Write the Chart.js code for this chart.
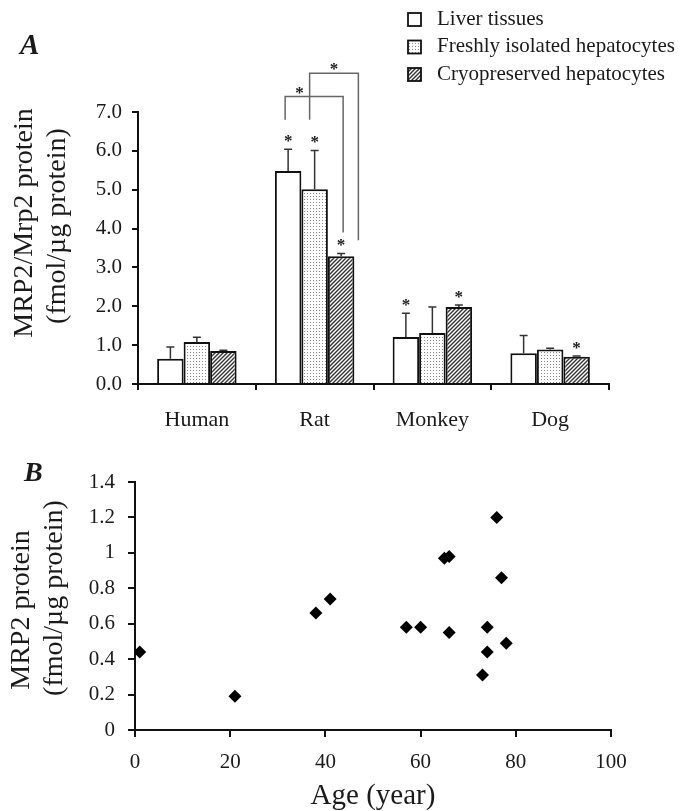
<!DOCTYPE html>
<html>
<head>
<meta charset="utf-8">
<script src="https://cdn.jsdelivr.net/npm/chart.js@4.4.0/dist/chart.umd.min.js"></script>
<style>
  body { margin: 0; background: #fff; }
  canvas { display: block; }
</style>
</head>
<body>
<canvas id="bar-chart" width="682" height="440"></canvas>
<canvas id="scatter-chart" width="682" height="371"></canvas>
<script>
// 圖 A：各物種 MRP2/Mrp2 蛋白量
const species = ["Human", "Rat", "Monkey", "Dog"];
const liverTissues = [0.65, 5.48, 1.21, 0.79];
const liverTissuesSD = [0.30, 0.56, 0.61, 0.46];
const freshHepatocytes = [1.08, 5.01, 1.31, 0.89];
const freshHepatocytesSD = [0.12, 1.00, 0.67, 0.03];
const cryoHepatocytes = [0.85, 3.29, 1.98, 0.70];
const cryoHepatocytesSD = [0.02, 0.07, 0.05, 0.02];
const liverSig = [false, true, true, false];
const freshSig = [false, true, false, false];
const cryoSig = [false, true, true, true];
const yTicksA = [0, 1, 2, 3, 4, 5, 6, 7];

// Rat 組內比較：[起, 迄] 資料集、橫線高度、左右腳下緣
const bracketPairs = [[0, 2], [1, 2]];
const bracketLevels = [7.4, 8.0];
const bracketLeftEnds = [6.8, 6.8];
const bracketRightEnds = [3.9, 3.7];

// 圖 B：年齡與 MRP2 蛋白量
const ages = [1, 21, 38, 41, 57, 60, 65, 66, 66, 73, 74, 74, 76, 77, 78];
const mrp2Protein = [0.44, 0.19, 0.66, 0.74, 0.58, 0.58, 0.97, 0.98, 0.55, 0.31, 0.58, 0.44, 1.20, 0.86, 0.49];

const serif = '"Liberation Serif", "Times New Roman", serif';
const ink = "#1a1a1a";

const makePattern = (size, draw) => {
  const c = document.createElement("canvas");
  c.width = size;
  c.height = size;
  const x = c.getContext("2d");
  x.fillStyle = "#fff";
  x.fillRect(0, 0, size, size);
  draw(x);
  return x.createPattern(c, "repeat");
};
const dots = makePattern(3, (x) => {
  x.fillStyle = "#888";
  x.fillRect(1, 1, 1, 1);
});
const hatch = makePattern(4, (x) => {
  x.strokeStyle = "#333";
  x.lineWidth = 1.4;
  x.beginPath();
  x.moveTo(0, 4); x.lineTo(4, 0);
  x.moveTo(-1, 1); x.lineTo(1, -1);
  x.moveTo(3, 5); x.lineTo(5, 3);
  x.stroke();
});

// 直排座標軸標題（兩行各自置中）
const drawVerticalTitle = (ctx, lines, centers, size) => {
  ctx.save();
  ctx.fillStyle = ink;
  ctx.font = size + "px " + serif;
  ctx.textAlign = "center";
  ctx.textBaseline = "middle";
  lines.forEach((t, i) => {
    ctx.save();
    ctx.translate(centers[i][0], centers[i][1]);
    ctx.rotate(-Math.PI / 2);
    ctx.fillText(t, 0, 0);
    ctx.restore();
  });
  ctx.restore();
};

// 誤差線、星號、括號、圖例
const barMarks = {
  id: "barMarks",
  afterDatasetsDraw(chart) {
    const { ctx } = chart;
    const y = chart.scales.y;
    ctx.save();
    ctx.font = "bold 17px " + serif;
    ctx.textAlign = "center";
    ctx.textBaseline = "alphabetic";
    chart.data.datasets.forEach((ds, i) => {
      chart.getDatasetMeta(i).data.forEach((bar, j) => {
        const top = y.getPixelForValue(ds.data[j] + ds.sd[j]);
        ctx.strokeStyle = "#333";
        ctx.lineWidth = 1.5;
        ctx.beginPath();
        ctx.moveTo(bar.x, bar.y);
        ctx.lineTo(bar.x, top);
        ctx.moveTo(bar.x - 4, top);
        ctx.lineTo(bar.x + 4, top);
        ctx.stroke();
        if (ds.sig[j]) {
          ctx.fillStyle = ink;
          ctx.fillText("*", bar.x, top - 3);
        }
      });
    });

    const rat = species.indexOf("Rat");
    const barOf = (d) => chart.getDatasetMeta(d).data[rat];
    ctx.strokeStyle = "#666";
    ctx.lineWidth = 1.5;
    const ends = [];
    bracketPairs.forEach(([a, b], k) => {
      const left = barOf(a).x - (k === 0 ? 3 : 5);
      const right = k === 0 ? barOf(b).x + 2 : barOf(b).x + barOf(b).width / 2 + 4;
      const top = y.getPixelForValue(bracketLevels[k]);
      ctx.beginPath();
      ctx.moveTo(left, y.getPixelForValue(bracketLeftEnds[k]));
      ctx.lineTo(left, top);
      ctx.lineTo(right, top);
      ctx.lineTo(right, y.getPixelForValue(bracketRightEnds[k]));
      ctx.stroke();
      ends.push([left, right, top]);
    });
    ctx.fillStyle = ink;
    ctx.fillText("*", (ends[0][0] + ends[1][0]) / 2 + 2, ends[0][2] + 2);
    ctx.fillText("*", (ends[1][0] + ends[1][1]) / 2, ends[1][2] + 1);
    ctx.restore();
  },
  afterDraw(chart) {
    const { ctx } = chart;
    ctx.save();
    chart.data.datasets.forEach((ds, i) => {
      const cy = 19 + i * 27.5;
      ctx.fillStyle = ds.backgroundColor;
      ctx.fillRect(408, cy - 6, 13, 13);
      ctx.strokeStyle = "#111";
      ctx.lineWidth = 1.8;
      ctx.strokeRect(408, cy - 6, 13, 13);
      ctx.fillStyle = ink;
      ctx.font = "21px " + serif;
      ctx.textBaseline = "middle";
      ctx.textAlign = "left";
      ctx.fillText(ds.label, 437, cy);
    });
    ctx.font = "italic bold 29px " + serif;
    ctx.fillText("A", 20, 47);
    ctx.restore();
    drawVerticalTitle(ctx, ["MRP2/Mrp2 protein", "(fmol/µg protein)"], [[25, 223], [58, 226]], 28);
  },
};

const barCtx = document.getElementById("bar-chart").getContext("2d");
const barConfig = {
  type: "bar",
  data: {
    labels: species,
    datasets: [
      { label: "Liver tissues", data: liverTissues, sd: liverTissuesSD, sig: liverSig, backgroundColor: "#fff" },
      { label: "Freshly isolated hepatocytes", data: freshHepatocytes, sd: freshHepatocytesSD, sig: freshSig, backgroundColor: dots },
      { label: "Cryopreserved hepatocytes", data: cryoHepatocytes, sd: cryoHepatocytesSD, sig: cryoSig, backgroundColor: hatch },
    ].map((d) => ({ ...d, borderColor: "#111", borderWidth: 2, barPercentage: 1, categoryPercentage: 0.675 })),
  },
  options: {
    responsive: false,
    animation: false,
    layout: { padding: { left: 0, right: 73, top: 112, bottom: 0 } },
    plugins: { legend: { display: false }, tooltip: { enabled: false } },
    scales: {
      x: {
        afterFit: (s) => { s.height = 56; },
        border: { color: "#111", width: 2 },
        grid: { drawOnChartArea: false, color: "#111", lineWidth: 2, tickLength: 6 },
        ticks: { color: ink, padding: 17, font: { family: serif, size: 22 } },
      },
      y: {
        min: 0,
        max: 7,
        afterFit: (s) => { s.width = 138; },
        afterBuildTicks: (s) => { s.ticks = yTicksA.map((v) => ({ value: v })); },
        border: { color: "#111", width: 2 },
        grid: { drawOnChartArea: false, color: "#111", lineWidth: 2, tickLength: 6 },
        ticks: { color: ink, padding: 10, font: { family: serif, size: 21 }, callback: (v) => Number(v).toFixed(1) },
      },
    },
  },
  plugins: [barMarks],
};
const barChart = new Chart(barCtx, barConfig);

// 圖 B 散佈圖
const panelLabelB = {
  id: "panelLabelB",
  afterDraw(chart) {
    const { ctx } = chart;
    ctx.save();
    ctx.fillStyle = ink;
    ctx.font = "italic bold 28px " + serif;
    ctx.textBaseline = "middle";
    ctx.fillText("B", 24, 34);
    ctx.restore();
    drawVerticalTitle(ctx, ["MRP2 protein", "(fmol/µg protein)"], [[22, 170], [55, 158]], 28);
  },
};

const scatterCtx = document.getElementById("scatter-chart").getContext("2d");
const scatterConfig = {
  type: "scatter",
  data: {
    datasets: [
      {
        data: ages.map((a, i) => ({ x: a, y: mrp2Protein[i] })),
        pointStyle: "rectRot",
        pointRadius: 6.5,
        backgroundColor: "#000",
        borderColor: "#000",
        borderWidth: 0,
      },
    ],
  },
  options: {
    responsive: false,
    animation: false,
    layout: { padding: { left: 0, right: 71, top: 42, bottom: 0 } },
    plugins: { legend: { display: false }, tooltip: { enabled: false } },
    scales: {
      x: {
        type: "linear",
        min: 0,
        max: 100,
        afterFit: (s) => { s.height = 81; },
        border: { color: "#111", width: 2 },
        grid: { drawOnChartArea: false, color: "#111", lineWidth: 2, tickLength: 7 },
        ticks: { stepSize: 20, color: ink, padding: 13, font: { family: serif, size: 21 } },
        title: {
          display: true,
          text: "Age (year)",
          color: ink,
          font: { family: serif, size: 29, lineHeight: 1.0 },
          padding: { top: 0, bottom: 0 },
        },
      },
      y: {
        min: 0,
        max: 1.4,
        afterFit: (s) => { s.width = 135; },
        border: { color: "#111", width: 2 },
        grid: { drawOnChartArea: false, color: "#111", lineWidth: 2, tickLength: 7 },
        ticks: { stepSize: 0.2, color: ink, padding: 13, font: { family: serif, size: 21 }, callback: (v) => String(Math.round(v * 10) / 10) },
      },
    },
  },
  plugins: [panelLabelB],
};
const scatterChart = new Chart(scatterCtx, scatterConfig);
</script>
</body>
</html>
